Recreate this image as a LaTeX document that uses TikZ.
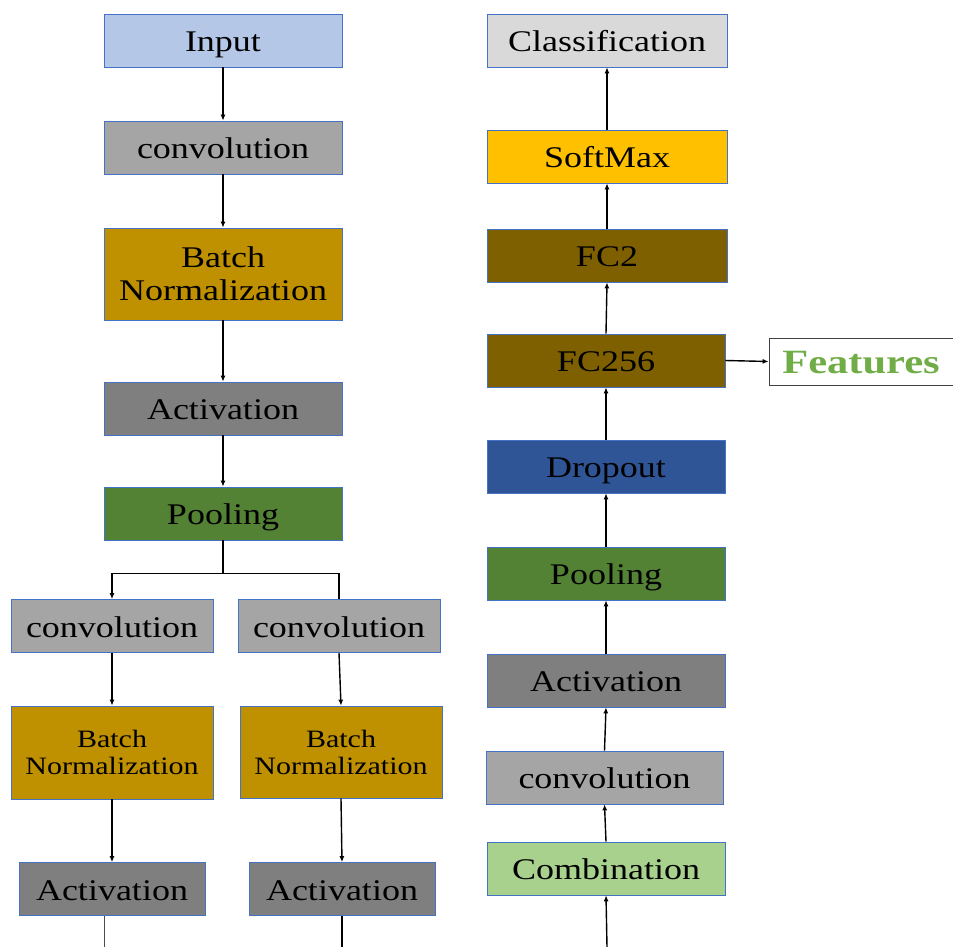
\documentclass[tikz,border=0pt]{standalone}
\usepackage{fontspec}
\setmainfont{Liberation Serif}[FakeStretch=1.2]
\usetikzlibrary{arrows.meta}
\definecolor{cInput}{HTML}{B4C7E7}
\definecolor{cConv}{HTML}{A5A5A5}
\definecolor{cBN}{HTML}{BF9000}
\definecolor{cAct}{HTML}{7F7F7F}
\definecolor{cPool}{HTML}{548235}
\definecolor{cCls}{HTML}{D9D9D9}
\definecolor{cSoft}{HTML}{FFC000}
\definecolor{cFC}{HTML}{7F6000}
\definecolor{cDrop}{HTML}{2F5597}
\definecolor{cComb}{HTML}{A9D18E}
\definecolor{cBorder}{HTML}{4472C4}
\definecolor{cFeat}{HTML}{70AD47}
\tikzset{
  box/.style={draw=cBorder, line width=0.7pt, inner sep=0pt, minimum height=53pt,
    minimum width=238pt, text=black, text height=22pt, text depth=0pt,
    font=\fontsize{30}{33}\selectfont},
  bnbox/.style={draw=cBorder, line width=0.7pt, inner sep=0pt, minimum height=92pt,
    minimum width=238pt, text=black, align=center,
    font=\fontsize{30}{33}\selectfont},
  arr/.style={line width=1.4pt, -{Latex[length=6pt,width=5pt]}},
  ln/.style={line width=1.4pt},
}
\begin{document}
\begin{tikzpicture}[x=1pt,y=-1pt]
\useasboundingbox (0,0) rectangle (953,947);
% left column
\node[box, fill=cInput] (inp) at (223,40.5) {Input};
\node[box, fill=cConv] (conv) at (223,147.5) {convolution};
\node[bnbox, fill=cBN] (bn) at (223,274) {Batch\\Normalization};
\node[box, fill=cAct] (act) at (223,408.5) {Activation};
\node[box, fill=cPool] (pool) at (223,513.5) {Pooling};
\node[box, fill=cConv, minimum width=202pt] (c1) at (112,626) {convolution};
\node[box, fill=cConv, minimum width=202pt] (c2) at (339,626) {convolution};
\node[bnbox, fill=cBN, minimum width=202pt, minimum height=93pt, font=\fontsize{25}{27}\selectfont] (b1) at (112,752.5) {Batch\\Normalization};
\node[bnbox, fill=cBN, minimum width=202pt, font=\fontsize{25}{27}\selectfont] (b2) at (341,752) {Batch\\Normalization};
\node[box, fill=cAct, minimum width=186pt] (a1) at (112,889) {Activation};
\node[box, fill=cAct, minimum width=186pt] (a2) at (342,889) {Activation};
% right column
\node[box, fill=cCls, minimum width=240pt] (cls) at (607,40.5) {Classification};
\node[box, fill=cSoft, minimum width=240pt] (soft) at (607,156.5) {SoftMax};
\node[box, fill=cFC, minimum width=240pt] (fc2) at (607,255.5) {FC2};
\node[box, fill=cFC] (fc256) at (606,360.5) {FC256};
\node[draw=black!75, line width=0.8pt, inner sep=0pt, minimum width=184pt, minimum height=47pt,
  text height=23pt, text depth=0pt,
  text=cFeat, font=\fontsize{34}{36}\selectfont\bfseries\addfontfeatures{FakeStretch=1.25}] (feat) at (861,361.5) {Features};
\node[box, fill=cDrop] (drop) at (606,466.5) {Dropout};
\node[box, fill=cPool] (pool2) at (606,573.5) {Pooling};
\node[box, fill=cAct] (act2) at (606,680.5) {Activation};
\node[box, fill=cConv, minimum width=237pt] (conv2) at (604.5,777.5) {convolution};
\node[box, fill=cComb] (comb) at (606,868.5) {Combination};
% connectors left
\draw[arr] (inp) -- (conv);
\draw[arr] (conv) -- (bn);
\draw[arr] (bn) -- (act);
\draw[arr] (act) -- (pool);
\draw[ln] (pool.south) -- ++(0,33) coordinate (br);
\draw[arr] (br) -| (c1.north);
\draw[ln] (br) -| (c2.north);
\draw[arr] (c1.south) -- (b1.north);
\draw[arr] (c2.south) -- (b2.north);
\draw[arr] (b1.south) -- (a1.north);
\draw[arr] (b2.south) -- (a2.north);
\coordinate (e1) at (104,947);
\coordinate (e2) at (342,947);
\draw[line width=1pt, black!70] (e1) -- (e1 |- a1.south);
\draw[ln] (a2.south) -- (e2);
% connectors right
\coordinate (e3) at (607,947);
\draw[arr] (e3) -- (comb.south);
\draw[arr] (comb.north) -- (conv2.south);
\draw[arr] (conv2.north) -- (act2.south);
\draw[arr] (act2) -- (pool2);
\draw[arr] (pool2) -- (drop);
\draw[arr] (drop) -- (fc256);
\draw[arr] (fc256.north) -- (fc2.south);
\draw[arr] (fc2.north) -- (soft.south);
\draw[arr] (soft.north) -- (cls.south);
\draw[arr] (fc256.east) -- (feat.west);
\end{tikzpicture}
\end{document}
